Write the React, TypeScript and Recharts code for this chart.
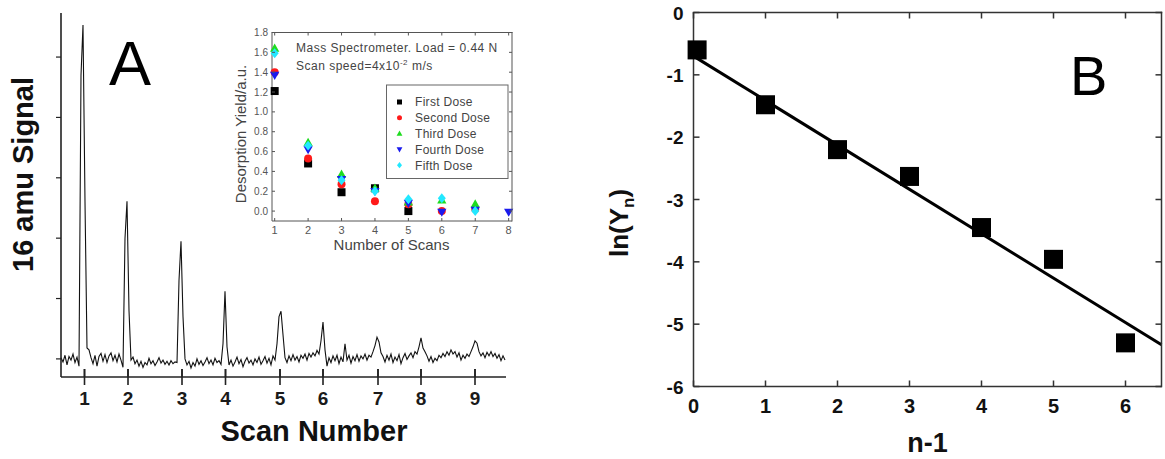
import React from 'react';
import { LineChart, Line, XAxis, YAxis, ScatterChart, Scatter } from 'recharts';

const FONT = "'Liberation Sans', Arial, Helvetica, sans-serif";

// ---------- Panel A: 16 amu signal trace (sample index, signal in arbitrary units) ----------
const signal16: number[] = [
  0.02, -0.05, 0.06, -0.10, 0.04, -0.02, 0.08, -0.06, 0.03, -0.12,
  4.70, 5.53, 2.60, 0.18, 0.15, 0.02, -0.08, 0.06, -0.12, 0.04,
  0.09, -0.04, 0.07, -0.06, 0.05, 0.10, -0.03, 0.06, -0.05, 0.08,
  -0.02, -0.14, 2.00, 2.61, 0.80, -0.02, 0.03, -0.08, -0.02, -0.12,
  -0.04, -0.14, -0.06, -0.10, 0.01, -0.08, -0.03, -0.11, -0.05, 0.02,
  -0.07, -0.02, -0.09, -0.04, -0.10, -0.03, -0.08, -0.05, -0.06, 1.30,
  1.95, 0.70, 0.00, -0.10, -0.04, -0.15, -0.06, -0.12, 0.00, -0.09,
  -0.03, -0.11, -0.05, 0.02, -0.08, -0.02, -0.10, 0.01, -0.06, -0.03,
  -0.09, 0.25, 1.12, 0.20, -0.10, -0.02, -0.12, -0.05, 0.03, -0.08,
  -0.01, -0.13, -0.04, 0.02, -0.07, -0.02, -0.10, 0.00, -0.06, 0.03,
  -0.09, -0.03, 0.04, -0.07, 0.01, -0.10, 0.05, -0.02, 0.25, 0.70,
  0.79, 0.40, 0.02, -0.06, 0.05, -0.03, 0.07, -0.02, 0.04, -0.05,
  0.06, 0.01, 0.08, -0.02, 0.09, 0.03, 0.10, 0.05, 0.14, 0.08,
  0.30, 0.61, 0.15, -0.12, 0.02, -0.06, 0.05, -0.03, 0.06, -0.08,
  0.03, -0.05, 0.25, -0.02, 0.06, -0.07, 0.04, -0.03, 0.07, -0.04,
  0.05, 0.00, 0.08, -0.02, 0.06, 0.03, 0.12, 0.22, 0.36, 0.28,
  0.10, 0.04, -0.05, 0.06, -0.02, 0.08, -0.06, 0.03, -0.03, 0.07,
  -0.08, 0.02, 0.09, -0.01, 0.05, 0.10, 0.02, 0.12, 0.08, 0.20,
  0.35, 0.18, 0.12, 0.05, -0.04, 0.04, -0.06, 0.01, -0.03, 0.06,
  0.02, 0.09, 0.04, 0.12, 0.06, 0.15, 0.08, 0.12, 0.03, 0.10,
  -0.02, 0.06, 0.01, 0.08, 0.04, 0.12, 0.20, 0.30, 0.26, 0.12,
  0.05, 0.10, 0.02, 0.11, 0.05, 0.12, 0.04, 0.09, 0.01, 0.07,
  -0.03, 0.05, -0.02,
];
const scanTickPositions = [11.75, 33.5, 60.5, 82.25, 109.5, 131, 158.5, 180, 207];
const scanLabels = ['1', '2', '3', '4', '5', '6', '7', '8', '9'];
const signalTicks = [0, 1, 2, 3, 4, 5];
const aXDomain = [0, 222.5];
const aYDomain = [-0.3, 5.73];

// ---------- Inset: desorption yield per scan ----------
const insetScans = [1, 2, 3, 4, 5, 6, 7, 8];
const firstDose: (number | null)[] = [1.21, 0.48, 0.19, 0.23, 0.0, null, null, null];
const secondDose: (number | null)[] = [1.4, 0.53, 0.27, 0.1, 0.07, 0.0, 0.02, null];
const thirdDose: (number | null)[] = [1.64, 0.69, 0.37, 0.23, 0.09, 0.11, 0.07, null];
const fourthDose: (number | null)[] = [1.37, 0.62, 0.32, 0.2, 0.08, -0.01, 0.01, -0.01];
const fifthDose: (number | null)[] = [1.59, 0.66, 0.31, 0.2, 0.12, 0.13, 0.0, null];
const yieldTicks = [0, 0.2, 0.4, 0.6, 0.8, 1.0, 1.2, 1.4, 1.6, 1.8];
const insetXDomain = [0.92, 8.1];
const insetYDomain = [-0.1, 1.8];

// ---------- Panel B: ln(Yn) vs n-1 ----------
const nMinus1 = [0.05, 1, 2, 3, 4, 5, 6];
const lnYn = [-0.6, -1.48, -2.2, -2.63, -3.45, -3.96, -5.3];
const fitX = [0, 6.5];
const fitY = [-0.7, -5.33];
const bXTicks = [0, 1, 2, 3, 4, 5, 6];
const bYTicks = [-6, -5, -4, -3, -2, -1, 0];
const bXDomain = [0, 6.5];
const bYDomain = [-6, 0];

type Kind = 'square' | 'circle' | 'triangle' | 'triangleDown' | 'diamond';
const doseSeries: { name: string; color: string; kind: Kind; values: (number | null)[] }[] = [
  { name: 'First Dose', color: '#000000', kind: 'square', values: firstDose },
  { name: 'Second Dose', color: '#ff1a1a', kind: 'circle', values: secondDose },
  { name: 'Third Dose', color: '#1fdc1f', kind: 'triangle', values: thirdDose },
  { name: 'Fourth Dose', color: '#1a1aee', kind: 'triangleDown', values: fourthDose },
  { name: 'Fifth Dose', color: '#22e8ff', kind: 'diamond', values: fifthDose },
];

// page-space plot boxes (from the chart sizes and margins below), used for the box frames
const A_BOX = { left: 61, right: 506, top: 13, bottom: 377 };
const IN_BOX = { left: 272, right: 512, top: 32.5, bottom: 221 };
const B_BOX = { left: 693.5, right: 1161.5, top: 12.5, bottom: 386.5 };

function Marker({ kind, cx, cy, s, color }: { kind: Kind; cx: number; cy: number; s: number; color: string }) {
  if (cx == null || cy == null || isNaN(cx) || isNaN(cy)) return <g />;
  const h = s / 2;
  switch (kind) {
    case 'square':
      return <rect x={cx - h} y={cy - h} width={s} height={s} fill={color} />;
    case 'circle':
      return <circle cx={cx} cy={cy} r={h} fill={color} />;
    case 'triangle':
      return <polygon points={`${cx},${cy - s * 0.6} ${cx - s * 0.58},${cy + s * 0.42} ${cx + s * 0.58},${cy + s * 0.42}`} fill={color} />;
    case 'triangleDown':
      return <polygon points={`${cx},${cy + s * 0.6} ${cx - s * 0.58},${cy - s * 0.42} ${cx + s * 0.58},${cy - s * 0.42}`} fill={color} />;
    case 'diamond':
      return <polygon points={`${cx},${cy - s * 0.62} ${cx + s * 0.5},${cy} ${cx},${cy + s * 0.62} ${cx - s * 0.5},${cy}`} fill={color} />;
  }
  return <g />;
}

const Hidden = () => <g />;

// ---------- axis label renderers ----------
const ScanTick = (props: any) => {
  const { x, y, payload } = props;
  const i = scanTickPositions.indexOf(payload.value);
  return (
    <g>
      <rect x={x - 0.8} y={y - 8} width={1.6} height={16} fill="#222" />
      <text x={x} y={y + 28} textAnchor="middle" fontSize={19} fontWeight="bold" fontFamily={FONT} fill="#1a1a1a">
        {scanLabels[i]}
      </text>
    </g>
  );
};
const InsetLeftLabel = (props: any) => {
  const { x, y, payload } = props;
  return (
    <text x={x - 4} y={y} dy={3.5} textAnchor="end" fontSize={10} fontFamily={FONT} fill="#555">
      {Number(payload.value).toFixed(1)}
    </text>
  );
};
const InsetBottomLabel = (props: any) => {
  const { x, y, payload } = props;
  return (
    <text x={x} y={y + 13} textAnchor="middle" fontSize={11} fontFamily={FONT} fill="#555">
      {payload.value}
    </text>
  );
};
const BLeftLabel = (props: any) => {
  const { x, y, payload } = props;
  return (
    <text x={x - 10} y={y} dy={7} textAnchor="end" fontSize={19} fontWeight="bold" fontFamily={FONT} fill="#111">
      {payload.value}
    </text>
  );
};
const BBottomLabel = (props: any) => {
  const { x, y, payload } = props;
  return (
    <text x={x} y={y + 26} textAnchor="middle" fontSize={20} fontWeight="bold" fontFamily={FONT} fill="#111">
      {payload.value}
    </text>
  );
};

// top + right frame edges and inward tick marks on all four sides, drawn as thin filled rects
function BoxFrame({
  box, xd, yd, xt, yt, len, color, width,
}: {
  box: { left: number; right: number; top: number; bottom: number };
  xd: number[]; yd: number[]; xt: number[]; yt: number[]; len: number; color: string; width: number;
}) {
  const px = (v: number) => box.left + ((v - xd[0]) / (xd[1] - xd[0])) * (box.right - box.left);
  const py = (v: number) => box.bottom - ((v - yd[0]) / (yd[1] - yd[0])) * (box.bottom - box.top);
  const h = width / 2;
  return (
    <g>
      <rect x={box.left - h} y={box.top - h} width={box.right - box.left + width} height={width} fill={color} />
      <rect x={box.right - h} y={box.top - h} width={width} height={box.bottom - box.top + width} fill={color} />
      {xt.map((v) => (
        <g key={`x${v}`}>
          <rect x={px(v) - h} y={box.top} width={width} height={len} fill={color} />
          <rect x={px(v) - h} y={box.bottom - len} width={width} height={len} fill={color} />
        </g>
      ))}
      {yt.map((v) => (
        <g key={`y${v}`}>
          <rect x={box.right - len} y={py(v) - h} width={len} height={width} fill={color} />
          <rect x={box.left} y={py(v) - h} width={len} height={width} fill={color} />
        </g>
      ))}
    </g>
  );
}

export default function App() {
  const traceData = signal16.map((v, i) => ({ t: i, v }));
  const doseData = doseSeries.map((s) =>
    insetScans
      .map((scan, i) => ({ x: scan, y: s.values[i] }))
      .filter((d) => d.y !== null)
  );
  const bPoints = nMinus1.map((x, i) => ({ x, y: lnYn[i] }));
  const bFit = fitX.map((x, i) => ({ x, y: fitY[i] }));
  const aTickX = (t: number) => A_BOX.left + ((t - aXDomain[0]) / (aXDomain[1] - aXDomain[0])) * (A_BOX.right - A_BOX.left);

  return (
    <div style={{ position: 'absolute', left: 0, top: 0, width: 1165, height: 459, background: '#fff', overflow: 'hidden', fontFamily: FONT }}>
      {/* Panel A main trace */}
      <div style={{ position: 'absolute', left: 0, top: 0 }}>
        <LineChart width={520} height={459} data={traceData} margin={{ top: 13, right: 14, bottom: 52, left: 0 }}>
          <XAxis
            dataKey="t"
            type="number"
            domain={aXDomain}
            ticks={scanTickPositions}
            height={30}
            tickSize={0}
            tickMargin={0}
            tickLine={false}
            tick={ScanTick}
            axisLine={{ stroke: '#222', strokeWidth: 1.6 }}
            interval={0}
          />
          <YAxis
            type="number"
            domain={aYDomain}
            ticks={signalTicks}
            width={61}
            tickSize={5}
            tickFormatter={() => ''}
            tickLine={{ stroke: '#222', strokeWidth: 1.2 }}
            axisLine={{ stroke: '#222', strokeWidth: 1.6 }}
            interval={0}
          />
          <Line name="16 amu" type="linear" dataKey="v" stroke="#111" strokeWidth={1.1} dot={false} isAnimationActive={false} />
        </LineChart>
      </div>

      {/* Inset scatter */}
      <div style={{ position: 'absolute', left: 220, top: 20 }}>
        <ScatterChart width={300} height={245} margin={{ top: 12.5, right: 8, bottom: 24, left: 12 }}>
          <XAxis
            dataKey="x"
            type="number"
            domain={insetXDomain}
            ticks={insetScans}
            height={20}
            tickSize={0}
            tickMargin={0}
            tickLine={false}
            tick={InsetBottomLabel}
            axisLine={{ stroke: '#555', strokeWidth: 1 }}
            interval={0}
          />
          <YAxis
            dataKey="y"
            type="number"
            domain={insetYDomain}
            ticks={yieldTicks}
            width={40}
            tickSize={0}
            tickMargin={0}
            tickLine={false}
            tick={InsetLeftLabel}
            axisLine={{ stroke: '#555', strokeWidth: 1 }}
            interval={0}
          />
          {doseSeries.map((s, k) => (
            <Scatter
              key={s.name}
              name={s.name}
              data={doseData[k]}
              isAnimationActive={false}
              shape={(p: any) => <Marker kind={s.kind} cx={p.cx} cy={p.cy} s={8} color={s.color} />}
            />
          ))}
        </ScatterChart>
      </div>

      {/* Panel B */}
      <div style={{ position: 'absolute', left: 600, top: 0 }}>
        <ScatterChart width={565} height={459} margin={{ top: 12.5, right: 3.5, bottom: 32.5, left: 33.5 }}>
          <XAxis
            dataKey="x"
            type="number"
            domain={bXDomain}
            ticks={bXTicks}
            height={40}
            tickSize={0}
            tickMargin={0}
            tickLine={false}
            tick={BBottomLabel}
            axisLine={{ stroke: '#333', strokeWidth: 1.5 }}
            interval={0}
          />
          <YAxis
            dataKey="y"
            type="number"
            domain={bYDomain}
            ticks={bYTicks}
            width={60}
            tickSize={0}
            tickMargin={0}
            tickLine={false}
            tick={BLeftLabel}
            axisLine={{ stroke: '#333', strokeWidth: 1.5 }}
            interval={0}
          />
          <Scatter
            name="fit"
            data={bFit}
            line={{ stroke: '#000', strokeWidth: 3 }}
            lineType="joint"
            isAnimationActive={false}
            shape={Hidden}
          />
          <Scatter
            name="ln(Yn)"
            data={bPoints}
            isAnimationActive={false}
            shape={(p: any) => <Marker kind="square" cx={p.cx} cy={p.cy} s={19} color="#000" />}
          />
        </ScatterChart>
      </div>

      {/* Frames, titles, annotations and legend */}
      <svg width={1165} height={459} style={{ position: 'absolute', left: 0, top: 0, pointerEvents: 'none' }}>
        <BoxFrame box={IN_BOX} xd={insetXDomain} yd={insetYDomain} xt={insetScans} yt={yieldTicks} len={3} color="#555" width={1} />
        <BoxFrame box={B_BOX} xd={bXDomain} yd={bYDomain} xt={bXTicks} yt={bYTicks} len={6} color="#333" width={1.5} />
        {scanTickPositions.map((t) => (
          <rect key={t} x={aTickX(t) - 0.8} y={A_BOX.bottom - 8} width={1.6} height={8} fill="#222" />
        ))}

        <text x={109} y={85} fontSize={63} fontFamily={FONT} fill="#000">A</text>
        <text transform="translate(33,174.5) rotate(-90)" textAnchor="middle" fontSize={29} fontWeight="bold" fontFamily={FONT} fill="#111">
          16 amu Signal
        </text>
        <text x={314} y={441} textAnchor="middle" fontSize={29} fontWeight="bold" fontFamily={FONT} fill="#111">
          Scan Number
        </text>

        <text x={296} y={52} fontSize={12} letterSpacing={0.5} fontFamily={FONT} fill="#444">
          Mass Spectrometer. Load = 0.44 N
        </text>
        <text x={296} y={70} fontSize={12} letterSpacing={0.5} fontFamily={FONT} fill="#444">
          Scan speed=4x10<tspan fontSize={8} dy={-5}>-2</tspan>
          <tspan dy={5}> m/s</tspan>
        </text>
        <text transform="translate(246,134) rotate(-90)" textAnchor="middle" fontSize={15} fontFamily={FONT} fill="#444">
          Desorption Yield/a.u.
        </text>
        <text x={391.5} y={250} textAnchor="middle" fontSize={15} fontFamily={FONT} fill="#444">
          Number of Scans
        </text>

        <rect x={386.5} y={85} width={121.5} height={93.5} fill="#fff" stroke="#666" strokeWidth={1} />
        {doseSeries.map((s, k) => (
          <g key={s.name}>
            <Marker kind={s.kind} cx={399.5} cy={102 + k * 15.8} s={5} color={s.color} />
            <text x={415} y={106.3 + k * 15.8} fontSize={12} letterSpacing={0.3} fontFamily={FONT} fill="#444">
              {s.name}
            </text>
          </g>
        ))}

        <text x={1070} y={95} fontSize={56} fontFamily={FONT} fill="#000">B</text>
        <text transform="translate(628,223) rotate(-90)" textAnchor="middle" fontSize={26} fontWeight="bold" fontFamily={FONT} fill="#111">
          ln(Y<tspan fontSize={17} dy={6}>n</tspan>
          <tspan dy={-6}>)</tspan>
        </text>
        <text x={927.5} y={452} textAnchor="middle" fontSize={27} fontWeight="bold" fontFamily={FONT} fill="#111">
          n-1
        </text>
      </svg>
    </div>
  );
}
